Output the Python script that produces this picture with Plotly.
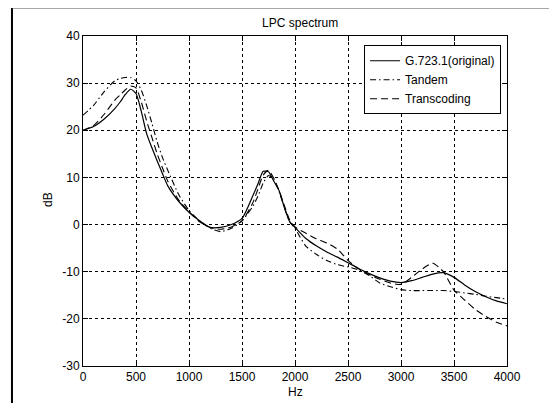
import plotly.graph_objects as go

freq_hz = [0, 100, 200, 300, 350, 400, 450, 500, 550, 600,
           650, 700, 750, 800, 900, 1000, 1100, 1200, 1300, 1400,
           1500, 1600, 1650, 1700, 1750, 1800, 1850, 1900, 1950, 2000,
           2100, 2200, 2300, 2400, 2500, 2600, 2700, 2800, 2900, 3000,
           3100, 3200, 3300, 3400, 3500, 3600, 3700, 3800, 3900, 4000]

original_db = [20.0, 20.8, 22.4, 24.6, 26.0, 27.6, 28.7, 27.8, 24.0, 19.3,
               16.3, 13.5, 10.8, 8.2, 5.0, 2.6, 0.8, -0.6, -0.6, 0.0,
               1.3, 6.0, 8.6, 11.3, 11.2, 9.2, 7.2, 3.6, 0.6, -0.6,
               -2.9, -4.5, -5.8, -6.9, -8.1, -9.3, -10.4, -11.3, -12.0, -12.3,
               -11.9, -11.2, -10.5, -10.2, -11.2, -12.8, -14.2, -15.3, -16.2, -16.8]

tandem_db = [23.2, 25.3, 28.2, 30.5, 31.0, 31.2, 31.2, 30.5, 28.5, 25.3,
             21.5, 17.5, 14.2, 11.5, 6.5, 3.0, 0.8, -0.8, -1.5, -0.8,
             0.8, 3.8, 6.0, 8.8, 10.4, 9.6, 7.0, 3.6, 0.6, -0.8,
             -4.5, -6.3, -7.6, -8.5, -9.0, -9.6, -10.8, -12.4, -13.2, -13.8,
             -14.0, -14.0, -14.0, -14.0, -14.2, -14.5, -14.8, -15.2, -15.5, -15.8]

transcoding_db = [20.0, 21.0, 23.4, 26.4, 27.5, 28.6, 29.4, 29.0, 26.0, 22.0,
                  18.5, 15.0, 12.0, 9.2, 5.3, 2.7, 0.6, -0.6, -1.0, -0.5,
                  0.8, 4.5, 7.5, 10.5, 11.5, 9.8, 7.2, 4.0, 1.0, -0.5,
                  -1.8, -3.0, -3.9, -5.2, -7.6, -9.4, -10.6, -11.6, -12.4, -12.7,
                  -11.2, -9.4, -8.2, -10.0, -13.9, -16.0, -18.0, -19.5, -20.7, -21.5]

series_names = ["G.723.1(original)", "Tandem", "Transcoding"]
x_ticks = [0, 500, 1000, 1500, 2000, 2500, 3000, 3500, 4000]
y_ticks = [-30, -20, -10, 0, 10, 20, 30, 40]
y_tick_labels = ["-30", "-20", "-10", "0", "10", "20", "30", "40"]

FONT = "Liberation Sans, Arial, Helvetica, sans-serif"

fig = go.Figure()
fig.add_trace(go.Scatter(x=freq_hz, y=original_db, name=series_names[0], mode="lines",
                         line=dict(color="black", width=1.2, shape="spline", smoothing=0.6)))
fig.add_trace(go.Scatter(x=freq_hz, y=tandem_db, name=series_names[1], mode="lines",
                         line=dict(color="black", width=1.1, dash="6px,3px,1.5px,3px",
                                   shape="spline", smoothing=0.6)))
fig.add_trace(go.Scatter(x=freq_hz, y=transcoding_db, name=series_names[2], mode="lines",
                         line=dict(color="black", width=1.1, dash="7px,4px",
                                   shape="spline", smoothing=0.6)))

axis_common = dict(
    showline=True, linecolor="black", linewidth=1, mirror="ticks",
    ticks="inside", ticklen=5, tickcolor="black",
    showgrid=True, gridcolor="black", gridwidth=1, griddash="dot",
    zeroline=False, automargin=False,
    tickfont=dict(size=12, color="black", family=FONT),
)

fig.update_xaxes(range=[0, 4000], tickvals=x_ticks, **axis_common)
fig.update_yaxes(range=[-30, 40], tickvals=y_ticks, ticktext=y_tick_labels, **axis_common)

# axis titles placed explicitly
fig.add_annotation(text="Hz", xref="paper", yref="paper", x=0.5, y=-0.079,
                   showarrow=False, xanchor="center", yanchor="middle",
                   font=dict(size=12, color="black", family=FONT))
fig.add_annotation(text="dB", xref="paper", yref="paper", x=-0.0825, y=0.503,
                   textangle=-90, showarrow=False, xanchor="center", yanchor="middle",
                   font=dict(size=12, color="black", family=FONT))

# outer figure frame (left and top edges)
fig.add_shape(type="line", xref="paper", yref="paper", x0=-0.1675, x1=-0.1675,
              y0=-0.12, y1=1.0848, line=dict(color="black", width=2))
fig.add_shape(type="line", xref="paper", yref="paper", x0=-0.1675, x1=1.2,
              y0=1.0848, y1=1.0848, line=dict(color="#555555", width=1))

fig.update_layout(
    width=541, height=395,
    margin=dict(l=75, r=42, t=28, b=37),
    paper_bgcolor="white", plot_bgcolor="white",
    font=dict(family=FONT, size=12, color="black"),
    title=dict(text="LPC spectrum", x=0.54, xanchor="center", y=0.963, yanchor="middle",
               font=dict(size=12, color="black", family=FONT)),
    legend=dict(x=0.986, y=0.972, xanchor="right", yanchor="top",
                bgcolor="white", bordercolor="black", borderwidth=1,
                font=dict(size=12, color="black", family=FONT)),
    showlegend=True,
)

fig.write_html("out.html")
